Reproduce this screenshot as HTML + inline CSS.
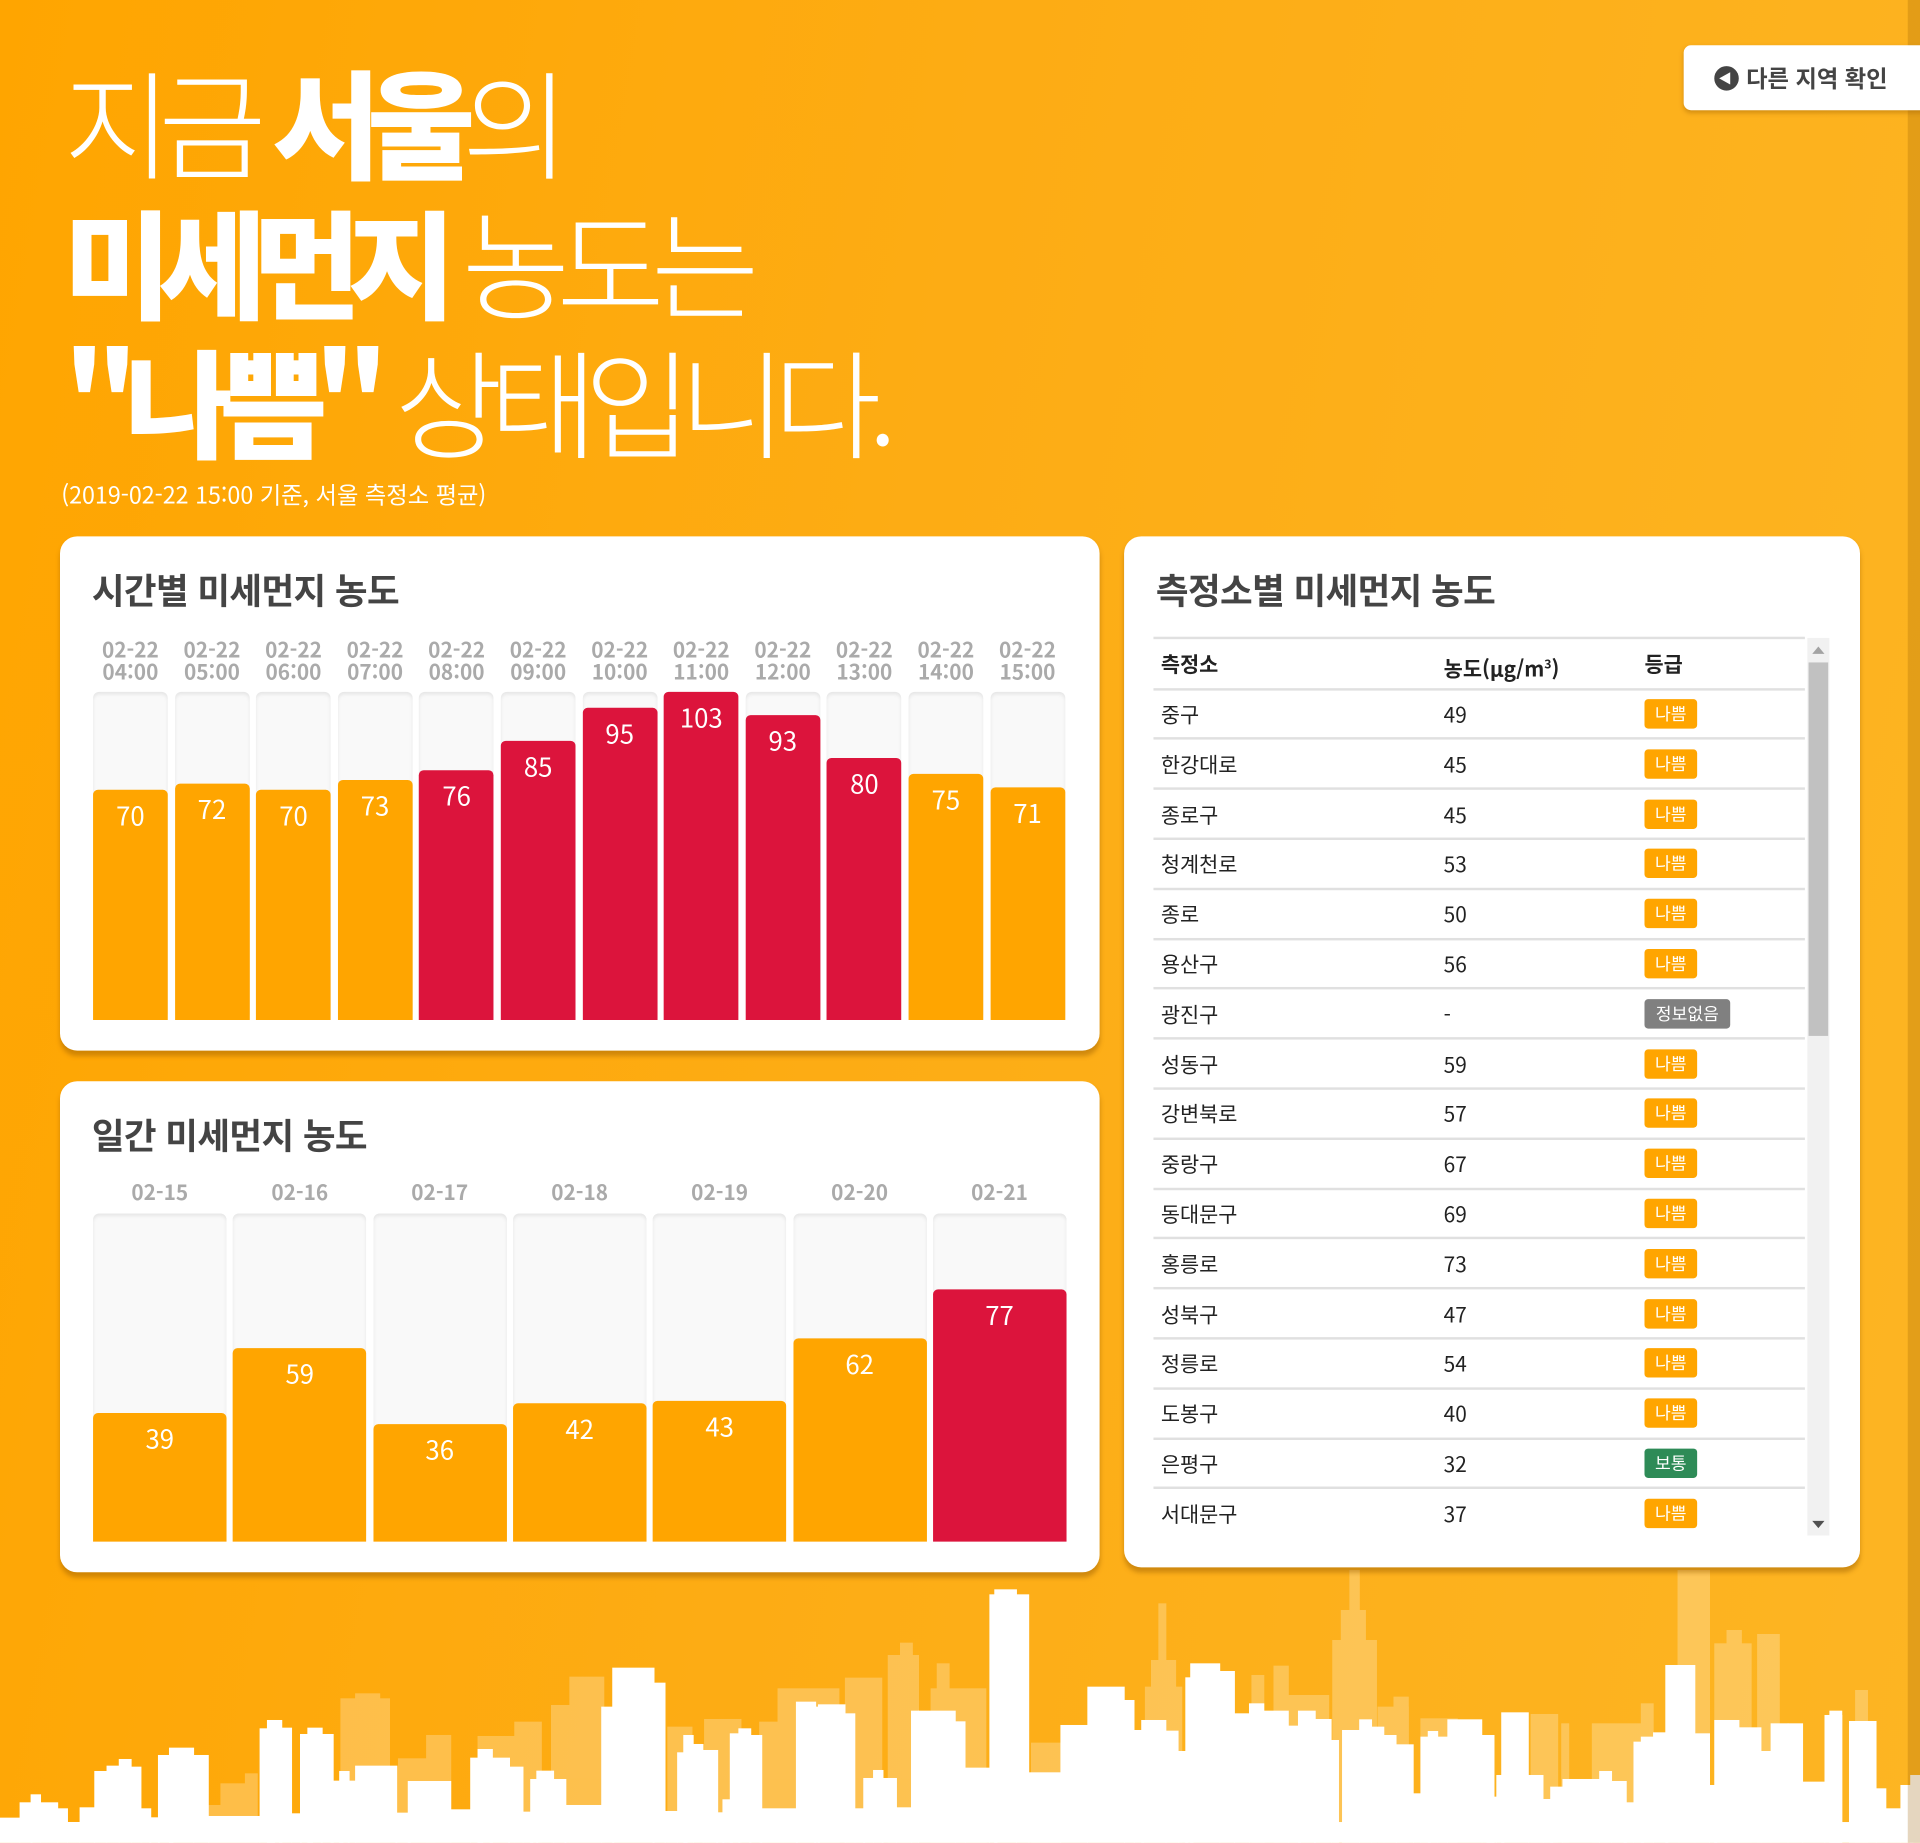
<!DOCTYPE html>
<html lang="ko"><head><meta charset="utf-8">
<style>
html,body{margin:0;padding:0;width:1920px;height:1843px;overflow:hidden}
body{font-family:"Liberation Sans","Noto Sans CJK KR",sans-serif}
#stage{position:absolute;left:0;top:0;width:1568px;height:1505px;transform:scale(1.2244898);transform-origin:0 0;background:linear-gradient(100deg,#ffa500 0%,#fdac14 45%,#fdb523 100%);overflow:hidden}
.abs{position:absolute}
.title{position:absolute;left:52px;color:#fff;font-size:96px;line-height:1;white-space:nowrap;font-family:"Noto Sans CJK KR",sans-serif;letter-spacing:-11px}
.l{font-weight:300}.b{font-weight:900}
.card{position:absolute;background:#fff;border-radius:14px;box-shadow:0 4px 4px rgba(150,90,0,.45)}
.ctitle{position:absolute;left:26px;top:22px;font-size:29px;font-weight:700;color:#444;font-family:"Noto Sans CJK KR",sans-serif;letter-spacing:-0.5px}
.lbl{position:absolute;text-align:center;color:#aaa;font-size:17px;font-weight:700;line-height:18px;font-family:"Noto Sans CJK KR",sans-serif}
.track{position:absolute;background:#f9f9f9;border-radius:5px;box-shadow:inset 0 2px 3px rgba(0,0,0,.08)}
.bar{position:absolute;border-radius:4px 4px 0 0}
.val{position:absolute;color:#fff;font-size:21px;text-align:center;font-family:"Noto Sans CJK KR",sans-serif}
.cell{position:absolute;font-size:17px;color:#222;font-family:"Noto Sans CJK KR",sans-serif;line-height:20px}
.badge{position:absolute;color:#fff;font-size:14px;border-radius:3px;height:24px;line-height:24px;text-align:center;font-family:"Noto Sans CJK KR",sans-serif}
.hline{position:absolute;left:942px;width:532px;height:2px;background:#e0e0e0}
</style></head><body>
<div id="stage">
<svg class="abs" style="left:0;top:0" width="1568" height="1505">
<g id="back" fill="#fff" opacity="0.25"></g><g id="front" fill="#fff"></g>
<rect x="0" y="1488" width="1568" height="17" fill="#fff"/>
<rect x="1558" y="0" width="10" height="1505" fill="rgba(150,90,0,0.25)"/>
</svg>
<div class="title" style="top:50px"><span class="l">지금 </span><span class="b">서울</span><span class="l">의</span></div>
<div class="title" style="top:164px"><span class="b">미세먼지</span><span class="l"> 농도는</span></div>
<div class="title" style="top:278px"><span class="b">"나쁨"</span><span class="l"> 상태입니다.</span></div>
<div class="abs" style="left:50px;top:390px;color:#fff;font-size:19px;font-family:'Noto Sans CJK KR',sans-serif">(2019-02-22 15:00 기준, 서울 측정소 평균)</div>
<div class="abs" style="left:1375px;top:37px;width:200px;height:53px;background:#fff;border-radius:6px 0 0 6px;box-shadow:0 2px 4px rgba(150,90,0,.4);font-size:19px;font-weight:700;color:#444;line-height:53px;font-family:'Noto Sans CJK KR',sans-serif"><span style="display:inline-block;width:20px;height:20px;border-radius:50%;background:#444;margin:0 6px 0 25px;vertical-align:-3px;position:relative"><span style="position:absolute;left:4px;top:5px;border-right:9px solid #fff;border-top:5px solid transparent;border-bottom:5px solid transparent"></span></span>다른 지역 확인</div>

<div class="card" style="left:49px;top:438px;width:849px;height:420px"><div class="ctitle">시간별 미세먼지 농도</div></div>
<div class="card" style="left:49px;top:883px;width:849px;height:401px"><div class="ctitle">일간 미세먼지 농도</div></div>
<div class="card" style="left:918px;top:438px;width:601px;height:842px"><div class="ctitle">측정소별 미세먼지 농도</div></div>
<div id="charts"></div>
<div id="table"></div>
<div class="abs" style="left:1476px;top:521px;width:18px;height:733px;background:#f1f1f1"></div>
<div class="abs" style="left:1477px;top:541px;width:16px;height:305px;background:#c1c1c1"></div>
<div class="abs" style="left:1480px;top:528px;border-bottom:6px solid #a3a3a3;border-left:5px solid transparent;border-right:5px solid transparent"></div>
<div class="abs" style="left:1480px;top:1242px;border-top:6px solid #505050;border-left:5px solid transparent;border-right:5px solid transparent"></div>
</div>
<script>
const hourLabels=["04:00","05:00","06:00","07:00","08:00","09:00","10:00","11:00","12:00","13:00","14:00","15:00"];
const hourValues=[70,72,70,73,76,85,95,103,93,80,75,71];
const dayLabels=["02-15","02-16","02-17","02-18","02-19","02-20","02-21"];
const dayValues=[39,59,36,42,43,62,77];
const stations=["중구","한강대로","종로구","청계천로","종로","용산구","광진구","성동구","강변북로","중랑구","동대문구","홍릉로","성북구","정릉로","도봉구","은평구","서대문구"];
const stationValues=["49","45","45","53","50","56","-","59","57","67","69","73","47","54","40","32","37"];
const stationGrades=["나쁨","나쁨","나쁨","나쁨","나쁨","나쁨","정보없음","나쁨","나쁨","나쁨","나쁨","나쁨","나쁨","나쁨","나쁨","보통","나쁨"];
const back=[[170,10,735],[180,20,670],[200,10,640],[278,40,415],[290,20,400],[325,30,595],[348,20,525],[390,30,528],[420,22,485],[450,15,435],[465,28,350],[545,20,500],[575,30,477],[620,20,485],[635,50,385],[690,30,353],[725,25,285],[735,10,248],[760,45,385],[765,10,310],[842,24,548],[935,30,380],[940,20,300],[946,6,130],[1022,10,345],[1040,12,317],[1050,20,405],[1070,15,405],[1088,36,240],[1095,20,150],[1102,8,30],[1125,25,440],[1138,12,410],[1160,30,475],[1250,22,462],[1275,6,490],[1300,40,490],[1340,10,430],[1370,26,30],[1400,30,250],[1410,12,210],[1435,18,222],[1515,10,390]];
const front=[[0,16,773],[16,10,727],[25,8,703],[33,14,727],[47,8,745],[55,10,786],[65,12,742],[77,10,633],[87,10,617],[97,10,597],[107,8,620],[115,8,745],[122,8,772],[129,12,585],[138,20,563],[158,12,585],[170,42,768],[212,12,505],[218,12,480],[228,10,503],[238,8,760],[245,10,522],[251,12,503],[262,10,522],[270,10,662],[277,8,633],[284,6,662],[290,34,617],[323,12,758],[333,35,663],[368,16,748],[384,10,593],[390,12,567],[400,16,593],[415,12,620],[427,8,755],[433,6,657],[438,14,632],[452,10,657],[461,30,735],[491,10,440],[500,34,323],[533,10,368],[543,10,753],[553,8,577],[558,8,525],[566,8,552],[574,12,570],[585,6,757],[590,8,718],[596,8,520],[603,10,505],[612,10,525],[621,30,745],[650,16,425],[665,4,440],[668,22,433],[690,8,460],[698,8,745],[705,8,654],[713,8,630],[720,12,654],[732,12,742],[744,6,452],[750,30,452],[780,8,484],[788,20,623],[808,6,103],[812,18,88],[830,10,103],[840,26,637],[866,22,495],[888,30,380],[918,8,420],[926,8,510],[932,20,480],[952,10,512],[962,8,573],[968,6,352],[972,24,310],[996,12,333],[1008,12,460],[1020,12,430],[1032,20,452],[1052,10,497],[1060,14,452],[1073,14,477],[1087,6,540],[1096,14,510],[1110,10,478],[1120,10,500],[1130,10,525],[1140,14,553],[1154,6,700],[1160,8,530],[1166,8,513],[1174,8,530],[1182,28,478],[1210,10,525],[1214,8,710],[1222,6,645],[1226,22,457],[1248,12,645],[1260,8,717],[1266,10,680],[1276,30,657],[1306,10,633],[1316,12,663],[1326,8,727],[1334,8,545],[1340,10,530],[1350,12,517],[1360,24,315],[1384,12,520],[1396,6,675],[1400,20,480],[1420,18,502],[1438,8,573],[1446,14,490],[1460,12,490],[1472,18,665],[1490,14,465],[1494,10,452],[1510,22,483],[1532,8,685],[1540,12,745],[1552,10,675],[1560,8,645]];
const NS="http://www.w3.org/2000/svg";
function sky(list,gid){const g=document.getElementById(gid);list.forEach(b=>{const r=document.createElementNS(NS,'rect');


const top=1274+b[2]*0.2722;
r.setAttribute('x',b[0]);r.setAttribute('y',top);r.setAttribute('width',b[1]+0.5);r.setAttribute('height',1505-top);g.appendChild(r);});}
sky(back,'back');sky(front,'front');
const wrap=document.getElementById('charts');
function chart(labels,values,x0,pitch,bw,top,bottom,lblY,two,name){
 const H=bottom-top, y=v=>bottom-Math.min(v,100)/100*H;
 labels.forEach((lab,i)=>{const x=x0+i*pitch;
  const l=document.createElement('div');l.className='lbl';
  
  
  l.style.left=x+'px';l.style.width=bw+'px';l.style.top=lblY+'px';l.innerHTML=two?('02-22<br>'+lab):lab;wrap.appendChild(l);
  const t=document.createElement('div');t.className='track';
  
  
  t.style.cssText=`left:${x}px;top:${top}px;width:${bw}px;height:${H}px`;wrap.appendChild(t);
  const v=values[i],yt=y(v);
  const b=document.createElement('div');b.className='bar';
  
  
  b.style.cssText=`left:${x}px;top:${yt}px;width:${bw}px;height:${bottom-yt}px;background:${v>75?'#dc143c':'#ffa500'}`;wrap.appendChild(b);
  const tv=document.createElement('div');tv.className='val';
  
  
  tv.style.cssText=`left:${x}px;top:${yt+6}px;width:${bw}px`;tv.textContent=v;wrap.appendChild(tv);
 });
}
chart(hourLabels,hourValues,76,66.6,61,565,833,521,true,'hourly');
chart(dayLabels,dayValues,76,114.3,109,991,1259,964,false,'daily');
const tb=document.getElementById('table');
function add(html,cls,css,name,inter){const d=document.createElement('div');d.className=cls;d.style.cssText=css;d.innerHTML=html;
 
 
 tb.appendChild(d);}
add('','hline','top:520px','table-top-border','false');
add('측정소','cell','left:948px;top:532px;font-weight:700','header-station','false');
add('농도(μg/m<sup style="font-size:10px">3</sup>)','cell','left:1179px;top:532px;font-weight:700','header-concentration','false');
add('등급','cell','left:1343px;top:532px;font-weight:700','header-grade','false');
stations.forEach((s,i)=>{const cy=583+i*40.8;
 add('','hline',`top:${cy-21.5}px`,'row-divider','false');
 add(s,'cell',`left:948px;top:${cy-10}px`,'station-name','false');
 add(stationValues[i],'cell',`left:1179px;top:${cy-10}px`,'station-value','false');
 const g=stationGrades[i];const col=g==='나쁨'?'#ffa500':g==='보통'?'#2e8b57':'#808080';
 add(g,'badge',`left:1343px;top:${cy-12}px;width:${g.length>2?70:43}px;background:${col}`,'grade-badge','false');
});
</script>
</body></html>
